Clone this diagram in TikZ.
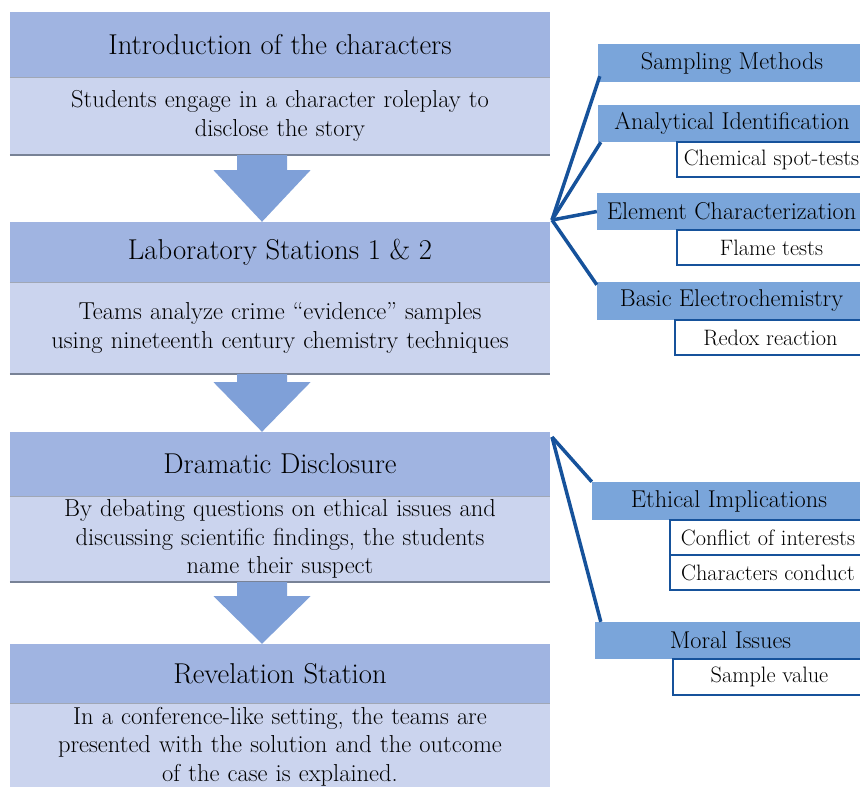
\documentclass[tikz,border=0pt]{standalone}
\usetikzlibrary{calc}
\definecolor{hdr}{RGB}{160,180,225}
\definecolor{bdy}{RGB}{203,212,238}
\definecolor{side}{RGB}{122,165,218}
\definecolor{arw}{RGB}{127,160,216}
\definecolor{con}{RGB}{22,82,155}
\definecolor{sepc}{RGB}{120,130,150}
\newcommand{\flowarrow}[3]{\fill[arw] ($(#1.south)+(-43,0)$) -- ($(#1.south)+(-43,#3)$) -- ($(#1.south)+(-66.5,#3)$) -- ($(#2.north)+(-18,0)$) -- ($(#1.south)+(30.5,#3)$) -- ($(#1.south)+(7,#3)$) -- ($(#1.south)+(7,0)$) -- cycle;}
\begin{document}
\begin{tikzpicture}[x=1pt,y=-1pt,
  hdrbox/.style={fill=hdr, minimum width=540pt, inner sep=0pt, font=\fontsize{28.7}{32}\selectfont},
  bdybox/.style={fill=bdy, minimum width=540pt, inner sep=0pt, text width=536pt, align=center, font=\fontsize{24.5}{28.5}\selectfont},
  sidebox/.style={fill=side, inner sep=0pt, font=\fontsize{24.3}{26}\selectfont},
  subbox/.style={fill=white, draw=con, line width=2pt, inner sep=0pt, font=\fontsize{22.3}{26}\selectfont},
  conn/.style={draw=con, line width=3.5pt},
  hsep/.style={draw=sepc!70, line width=1pt},
  bsep/.style={draw=sepc, line width=1.8pt}]
\useasboundingbox (0,0) rectangle (860,787);
\clip (0,0) rectangle (860,787);
% left flow
\node[hdrbox, minimum height=65pt] (h1) at (280,44.5) {Introduction of the characters};
\node[bdybox, minimum height=78pt] (b1) at (280,116) {Students engage in a character roleplay to\\disclose the story};
\node[hdrbox, minimum height=60pt] (h2) at (280,252) {Laboratory Stations 1 \& 2};
\node[bdybox, minimum height=92pt] (b2) at (280,328) {Teams analyze crime ``evidence'' samples\\using nineteenth century chemistry techniques};
\node[hdrbox, minimum height=64pt] (h3) at (280,464) {Dramatic Disclosure};
\node[bdybox, minimum height=86pt] (b3) at (280,539) {By debating questions on ethical issues and\\discussing scientific findings, the students\\name their suspect};
\node[hdrbox, minimum height=59pt] (h4) at (280,673.5) {Revelation Station};
\node[bdybox, minimum height=87pt] (b4) at (280,746.5) {In a conference-like setting, the teams are\\presented with the solution and the outcome\\of the case is explained.};
\foreach \n in {h1,h2,h3,h4}{\draw[hsep] (\n.south west) -- (\n.south east);}
\foreach \n in {b1,b2,b3}{\draw[bsep] (\n.south west) -- (\n.south east);}
\flowarrow{b1}{h2}{15}
\flowarrow{b2}{h3}{8}
\flowarrow{b3}{h4}{14}
% right side
\coordinate (s1) at (552,220);
\coordinate (s2) at (552,437);
\node[sidebox, minimum width=268pt, minimum height=38pt] (sm) at (732,63) {Sampling Methods};
\node[sidebox, minimum width=268pt, minimum height=37pt] (ai) at (732,123.5) {Analytical Identification};
\node[subbox, minimum width=189pt, minimum height=35pt] (cst) at (771.5,159.5) {Chemical spot-tests};
\node[sidebox, minimum width=269pt, minimum height=37pt] (ec) at (731.5,211.5) {Element Characterization};
\node[subbox, minimum width=189pt, minimum height=35pt] (ft) at (771.5,247.5) {Flame tests};
\node[sidebox, minimum width=269pt, minimum height=38pt] (be) at (731.5,301) {Basic Electrochemistry};
\node[subbox, minimum width=191pt, minimum height=35pt] (rr) at (770.5,337.5) {Redox reaction};
\node[sidebox, minimum width=274pt, minimum height=38pt] (ei) at (729,501) {Ethical Implications};
\node[subbox, minimum width=196pt, minimum height=35pt] (ci) at (768,537.5) {Conflict of interests};
\node[subbox, minimum width=196pt, minimum height=35pt] (cc) at (768,572.5) {Characters conduct};
\node[sidebox, minimum width=271pt, minimum height=37pt] (mi) at (730.5,640.5) {Moral Issues};
\node[subbox, minimum width=193pt, minimum height=36pt] (sv) at (769.5,677) {Sample value};
\draw[conn] (s1) -- ($(sm.south west)+(2,-6)$);
\draw[conn] (s1) -- ($(ai.south west)+(3,0)$);
\draw[conn] (s1) -- (ec.west);
\draw[conn] (s1) -- ($(be.north west)+(0,3)$);
\draw[conn] (s2) -- (ei.north west);
\draw[conn] (s2) -- ($(mi.north west)+(6,0)$);
\end{tikzpicture}
\end{document}
